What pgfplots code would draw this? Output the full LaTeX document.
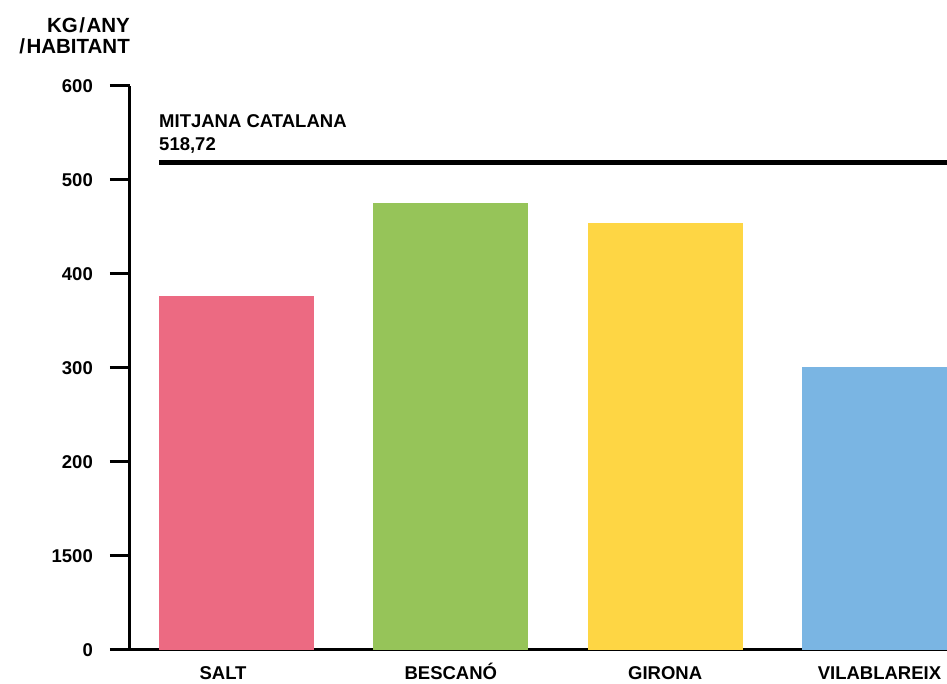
\documentclass[border=0pt]{standalone}
\usepackage{pgfplots}
\pgfplotsset{compat=1.18}
\usepackage{fontspec}
\setmainfont{Liberation Sans}
\definecolor{cSalt}{HTML}{EC6A82}
\definecolor{cBescano}{HTML}{96C459}
\definecolor{cGirona}{HTML}{FED644}
\definecolor{cVila}{HTML}{7AB5E3}
\newcommand{\lab}{\fontsize{18.5}{22}\selectfont\bfseries}
\newcommand{\ttl}{\fontsize{20.5}{24}\selectfont\bfseries}
\begin{document}
\begin{tikzpicture}
\begin{axis}[
    name=ax,
    at={(0,0)}, anchor=south west,
    scale only axis,
    width=817pt, height=564pt,
    xmin=-0.497, xmax=3.315,
    ymin=0, ymax=600,
    axis lines*=left,
    axis line style={line width=3pt},
    tick align=outside,
    major tick length=20pt,
    ytick={0,100,200,300,400,500,600},
    yticklabels={0,1500,200,300,400,500,600},
    ytick style={line width=3pt, black},
    xtick={0,1,2,3},
    xticklabels={SALT\hspace*{27pt},BESCANÓ,GIRONA,VILABLAREIX},
    xtick style={draw=none},
    yticklabel style={font=\lab, anchor=east, inner sep=0pt, xshift=-17pt},
    xticklabel style={font=\lab, anchor=base, inner sep=0pt, yshift=-9.5pt},
    every axis plot/.append style={draw=none},
    clip=true,
]
\addplot[ybar, bar width=0.723, bar shift=0pt, fill=cSalt] coordinates {(0,376.5)};
\addplot[ybar, bar width=0.723, bar shift=0pt, fill=cBescano] coordinates {(1,475.3)};
\addplot[ybar, bar width=0.723, bar shift=0pt, fill=cGirona] coordinates {(2,454.2)};
\addplot[ybar, bar width=0.723, bar shift=0pt, fill=cVila] coordinates {(3,300.9)};
% mitjana catalana
\addplot[draw=black, line width=5pt] coordinates {(-0.3615,518.72) (3.4,518.72)};
\node[anchor=base west, inner sep=0pt, font=\lab] at (axis cs:-0.3615,518.72) [yshift=35pt] {MITJANA CATALANA};
\node[anchor=base west, inner sep=0pt, font=\lab] at (axis cs:-0.3615,518.72) [yshift=12pt] {518,72};
\end{axis}
\node[anchor=base east, inner sep=0pt, font=\ttl] at ([yshift=53pt]ax.north west) {KG\kern1.5pt/\kern1.5pt ANY};
\node[anchor=base east, inner sep=0pt, font=\ttl] at ([yshift=32pt]ax.north west) {/\kern1.5pt HABITANT};
\pgfresetboundingbox
\useasboundingbox (ax.south west) ++(-130pt,-34pt) rectangle ++(947pt,684pt);
\end{tikzpicture}
\end{document}
